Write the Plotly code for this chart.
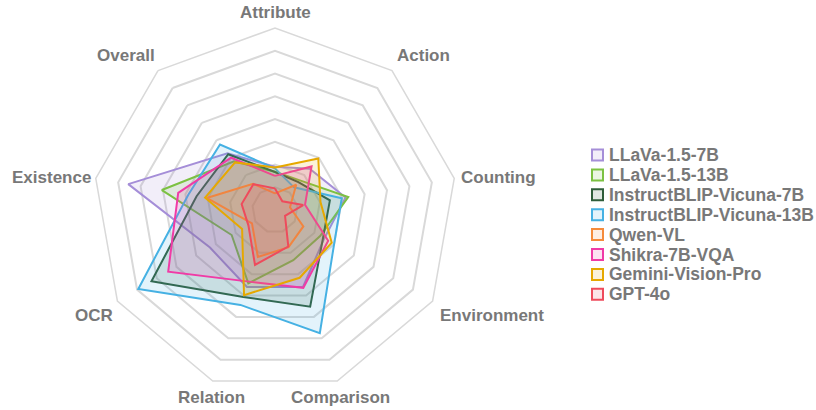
import plotly.graph_objects as go

categories = ["Attribute", "Action", "Counting", "Environment", "Comparison",
              "Relation", "OCR", "Existence", "Overall"]

models = ["LLaVa-1.5-7B", "LLaVa-1.5-13B", "InstructBLIP-Vicuna-7B",
          "InstructBLIP-Vicuna-13B", "Qwen-VL", "Shikra-7B-VQA",
          "Gemini-Vision-Pro", "GPT-4o"]

llava_7b = [19.0, 23.7, 31.5, 25.0, 36.0, 36.0, 33.0, 65.5, 32.5]
llava_13b = [16.8, 17.0, 32.7, 22.9, 23.5, 34.3, 22.0, 50.5, 28.0]
instructblip_7b = [16.7, 16.0, 24.5, 24.4, 45.2, 40.7, 62.7, 35.0, 32.0]
instructblip_13b = [18.3, 13.0, 29.8, 30.0, 57.6, 44.4, 69.4, 38.7, 37.6]
qwen_vl = [7.3, 14.5, 6.7, 14.4, 17.4, 22.0, 11.7, 30.5, 15.0]
shikra = [15.0, 25.0, 13.4, 27.0, 36.4, 33.5, 54.2, 43.2, 30.0]
gemini = [18.7, 29.6, 20.3, 28.8, 31.7, 39.8, 16.7, 31.2, 27.3]
gpt4o = [9.5, 5.0, 12.6, 5.1, 17.1, 25.7, 13.5, 14.9, 14.8]

series = [llava_7b, llava_13b, instructblip_7b, instructblip_13b,
          qwen_vl, shikra, gemini, gpt4o]
colors = ["#a58ed8", "#7cc142", "#2f5d3a", "#46b1e3",
          "#f58b3b", "#f03ba6", "#e6a800", "#ee4b5c"]

# pixel positions of the category labels around the web
label_pos = [(275, 12), (423.5, 55), (498, 178), (492, 315), (340, 397),
             (211.5, 397), (93.5, 315), (51, 178), (125.5, 55)]


def rgba(h, a):
    h = h.lstrip("#")
    return "rgba(%d,%d,%d,%.2f)" % (int(h[0:2], 16), int(h[2:4], 16), int(h[4:6], 16), a)


W, H = 816, 410
font_family = "Liberation Sans, Arial, sans-serif"
text_color = "#787878"
grid_color = "#d9d9d9"
bold17 = dict(size=17, color=text_color, family=font_family, weight="bold")
bold175 = dict(size=17.5, color=text_color, family=font_family, weight="bold")

fig = go.Figure()
for name, vals, col in zip(models, series, colors):
    fig.add_trace(go.Scatterpolar(
        r=vals + [vals[0]],
        theta=categories + [categories[0]],
        name=name,
        mode="lines",
        fill="toself",
        fillcolor=rgba(col, 0.15),
        line=dict(color=col, width=2),
        showlegend=False,
        hoverinfo="skip",
    ))

shapes, annotations = [], []

# category labels
for cat, (px, py) in zip(categories, label_pos):
    annotations.append(dict(text=cat, xref="paper", yref="paper",
                            x=px / W, y=1 - py / H, xanchor="center", yanchor="middle",
                            showarrow=False, font=bold17))

# custom legend (square swatches + labels)
leg_x0, leg_y0, leg_dy = 592, 155, 19.9
for i, (name, col) in enumerate(zip(models, colors)):
    cy = leg_y0 + i * leg_dy
    shapes.append(dict(type="rect", xref="paper", yref="paper",
                       x0=leg_x0 / W, x1=(leg_x0 + 11) / W,
                       y0=1 - (cy + 5.5) / H, y1=1 - (cy - 5.5) / H,
                       line=dict(color=col, width=2), fillcolor=rgba(col, 0.15)))
    annotations.append(dict(text=name, xref="paper", yref="paper",
                            x=(leg_x0 + 15) / W, y=1 - cy / H,
                            xanchor="left", yanchor="middle", showarrow=False,
                            font=bold175))

fig.update_layout(
    width=W, height=H,
    margin=dict(l=0, r=0, t=0, b=0),
    paper_bgcolor="white",
    plot_bgcolor="white",
    font=dict(family=font_family, color=text_color, size=17, weight="bold"),
    showlegend=False,
    shapes=shapes,
    annotations=annotations,
    polar=dict(
        domain=dict(x=[93 / W, 457 / W], y=[18 / H, 382 / H]),
        bgcolor="white",
        gridshape="linear",
        radialaxis=dict(range=[0, 80], dtick=10, showticklabels=False, ticks="",
                        showline=False, gridcolor=grid_color, gridwidth=1.5),
        angularaxis=dict(rotation=90, direction="clockwise", showgrid=False,
                         showline=True, linecolor=grid_color, linewidth=1.5,
                         ticks="", showticklabels=False),
    ),
)

fig.write_html("out.html", config={"displayModeBar": False},
               post_script="document.body.style.margin='0';")
